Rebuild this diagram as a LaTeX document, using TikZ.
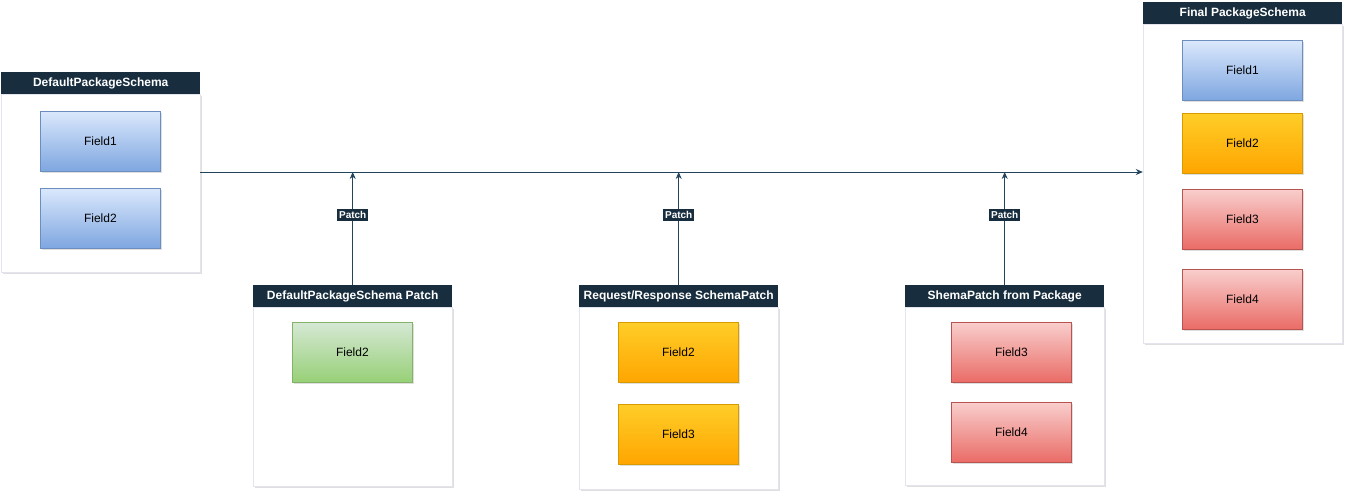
\documentclass[tikz,border=0pt]{standalone}
\usepackage{fontspec}
\setmainfont{Liberation Sans}
\usepackage{xcolor}
\usetikzlibrary{positioning,calc,shadows,arrows.meta}
\definecolor{hdr}{HTML}{182E3E}
\definecolor{wire}{HTML}{23445D}
\definecolor{lane}{HTML}{E4E4EE}
\definecolor{bluetop}{HTML}{DAE8FC}
\definecolor{bluebot}{HTML}{7EA6E0}
\definecolor{blueline}{HTML}{6C8EBF}
\definecolor{greentop}{HTML}{D5E8D4}
\definecolor{greenbot}{HTML}{97D077}
\definecolor{greenline}{HTML}{82B366}
\definecolor{orangetop}{HTML}{FFCD28}
\definecolor{orangebot}{HTML}{FFA500}
\definecolor{orangeline}{HTML}{D79B00}
\definecolor{redtop}{HTML}{F8CECC}
\definecolor{redbot}{HTML}{EA6B66}
\definecolor{redline}{HTML}{B85450}
\tikzstyle{softshadow}=[drop shadow={shadow xshift=2pt,shadow yshift=-2pt,opacity=0.25,fill=gray}]
\tikzstyle{lanehead}=[fill=hdr,text=white,font=\bfseries\fontsize{12}{14}\selectfont,minimum width=199pt,minimum height=22pt,inner sep=0pt,anchor=north west]
\tikzstyle{lanebody}=[draw=lane,fill=white,softshadow,minimum width=199pt,inner sep=0pt,anchor=north]
\tikzstyle{field}=[line width=0.8pt,minimum width=120pt,minimum height=60pt,inner sep=0pt,font=\fontsize{12}{14}\selectfont,anchor=north west,softshadow]
\tikzstyle{fblue}=[field,draw=blueline,top color=bluetop,bottom color=bluebot]
\tikzstyle{fgreen}=[field,draw=greenline,top color=greentop,bottom color=greenbot]
\tikzstyle{forange}=[field,draw=orangeline,top color=orangetop,bottom color=orangebot]
\tikzstyle{fred}=[field,draw=redline,top color=redtop,bottom color=redbot]
\tikzstyle{patchtag}=[fill=hdr,text=white,font=\bfseries\fontsize{10}{11}\selectfont,inner sep=2pt]
\tikzstyle{flow}=[draw=wire,line width=1pt,-{Stealth[length=7pt,width=6pt]}]
\begin{document}
\begin{tikzpicture}[x=1pt,y=-1pt]
\useasboundingbox (0,0) rectangle (1354,499);
\node[lanebody,minimum height=178pt] (dpsb) at (100.5,94) {};
\node[lanehead] (dps) at (1,72) {DefaultPackageSchema};
\node[fblue] (dpsf1) at (40,111) {Field1};
\node[fblue] (dpsf2) at (40,188) {Field2};
\node[lanebody,minimum height=179pt] (dppb) at (352.5,307) {};
\node[lanehead] (dpp) at (253,285) {DefaultPackageSchema Patch};
\node[fgreen] (dppf2) at (292,322) {Field2};
\node[lanebody,minimum height=182pt] (rrpb) at (678.5,307) {};
\node[lanehead] (rrp) at (579,285) {Request/Response SchemaPatch};
\node[forange] (rrpf2) at (618,322) {Field2};
\node[forange] (rrpf3) at (618,404) {Field3};
\node[lanebody,minimum height=178pt] (sppb) at (1004.5,307) {};
\node[lanehead] (spp) at (905,285) {ShemaPatch from Package};
\node[fred] (sppf3) at (951,322) {Field3};
\node[fred] (sppf4) at (951,402) {Field4};
\node[lanebody,minimum height=319pt] (fpsb) at (1242.5,24) {};
\node[lanehead] (fps) at (1143,2) {Final PackageSchema};
\node[fblue] (fpsf1) at (1182,40) {Field1};
\node[forange] (fpsf2) at (1182,113) {Field2};
\node[fred] (fpsf3) at (1182,189) {Field3};
\node[fred] (fpsf4) at (1182,269) {Field4};
\coordinate (bus) at (0,172);
\draw[flow] (dpsb.east |- bus) -- (fpsb.west |- bus);
\draw[flow] (dpp.north) -- node[patchtag,pos=0.62] {Patch} (dpp.north |- bus);
\draw[flow] (rrp.north) -- node[patchtag,pos=0.62] {Patch} (rrp.north |- bus);
\draw[flow] (spp.north) -- node[patchtag,pos=0.62] {Patch} (spp.north |- bus);
\end{tikzpicture}
\end{document}
